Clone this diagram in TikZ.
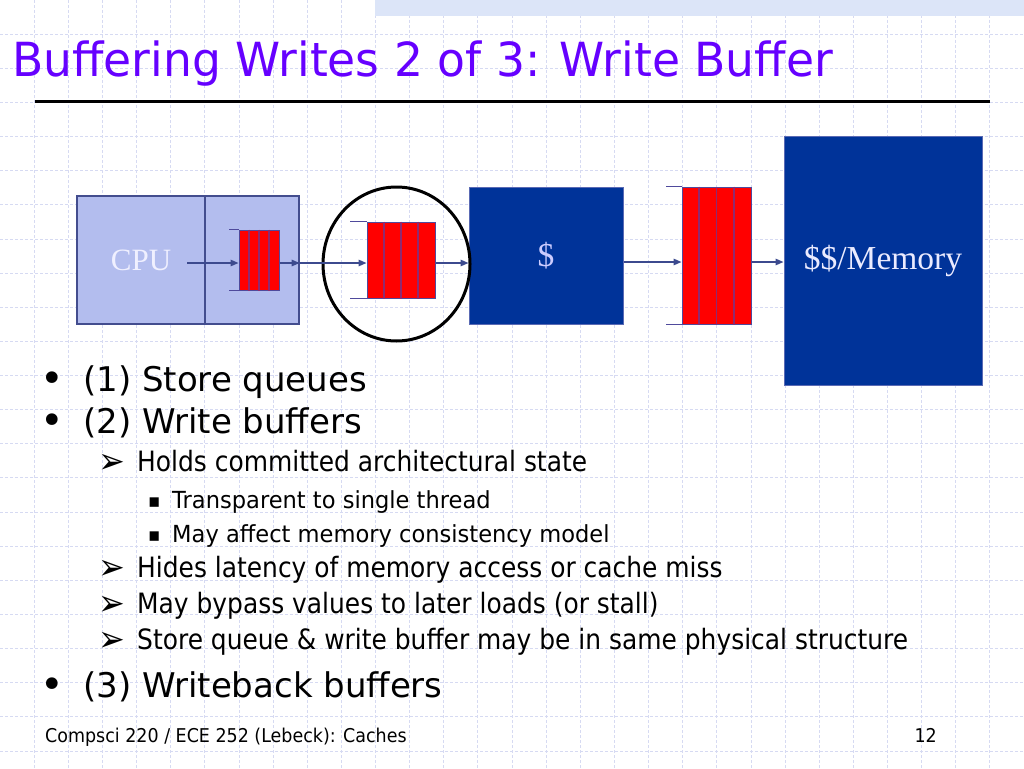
\documentclass[tikz,border=0pt]{standalone}
\usepackage{fontspec}
\setmainfont{DejaVu Sans}
\newfontfamily\titlefont{DejaVu Sans}[FakeStretch=0.97]
\newfontfamily\subfont{DejaVu Sans}[FakeStretch=0.89]
\newfontfamily\subsubfont{DejaVu Sans}[FakeStretch=0.96]
\newfontfamily\footfont{DejaVu Sans}[FakeStretch=0.92]
\newfontfamily\boxfont{Liberation Serif}
\usepackage{xcolor}
\usepackage{tikz}
\usetikzlibrary{arrows.meta}
\usetikzlibrary{positioning,calc,shapes.geometric}

\definecolor{titlecol}{HTML}{6600FF}
\definecolor{gridcol}{HTML}{D6DAF2}
\definecolor{bandcol}{HTML}{DCE5F8}
\definecolor{cpucol}{HTML}{B3BDEE}
\definecolor{cpuline}{HTML}{434D8E}
\definecolor{darkblue}{HTML}{003399}
\definecolor{boxline}{HTML}{5A6AB4}
\definecolor{qline}{HTML}{4F4A9C}
\definecolor{cellline}{HTML}{8E2A70}
\definecolor{flowcol}{HTML}{3C4A8E}

\newcommand{\bigdot}{\makebox[38pt][l]{\hspace*{-5pt}\fontsize{40}{40}\selectfont\raisebox{-1.5pt}{•}}}
\newcommand{\arrowmark}{\makebox[39pt][l]{\fontsize{36}{36}\selectfont\raisebox{-2pt}{➢}}}
\newcommand{\squaremark}{\makebox[24pt][l]{\fontsize{19}{20}\selectfont\raisebox{1pt}{▪}}}

\tikzset{
    gridline/.style={draw=gridcol, line width=0.8pt, dash pattern=on 3pt off 2pt},
    cpupart/.style={draw=cpuline, fill=cpucol, line width=1.2pt, inner sep=0pt},
    queue/.style={draw=qline, fill=red, line width=1pt, inner sep=0pt},
    bluebox/.style={draw=boxline, fill=darkblue, line width=1pt, inner sep=0pt,
        font=\boxfont\fontsize{33.5}{36}\selectfont},
    flow/.style={draw=flowcol, line width=1.4pt, -{Triangle[length=8pt, width=6.5pt]}},
    lvlone/.style={anchor=base west, inner sep=0pt, font=\fontsize{34}{40}\selectfont},
    lvltwo/.style={anchor=base west, inner sep=0pt, font=\subfont\fontsize{28}{32}\selectfont},
    lvlthree/.style={anchor=base west, inner sep=0pt, font=\subsubfont\fontsize{23.5}{28}\selectfont},
    footer/.style={inner sep=0pt, font=\footfont\fontsize{19}{22}\selectfont}
}

\begin{document}
\begin{tikzpicture}[x=1pt, y=-1pt]
    \useasboundingbox (0,0) rectangle (1024,768);
    \fill[white] (0,0) rectangle (1024,768);

    % background grid and band
    \foreach \k in {1,...,29}
        \draw[gridline] (\k*34.133,0) -- (\k*34.133,768);
    \foreach \k in {1,...,22}
        \draw[gridline] (0,\k*34.133) -- (1024,\k*34.133);
    \fill[bandcol] (375,0) rectangle (1024,16.5);

    % title
    \node[anchor=base west, inner sep=0pt, text=titlecol,
          font=\titlefont\fontsize{47}{52}\selectfont] (title) at (12,77) {Buffering Writes 2 of 3: Write Buffer};
    \draw[line width=3pt] (35,101.5) -- (990,101.5);

    % diagram
    \coordinate (lane) at (0,263);
    \coordinate (lanetwo) at (0,262);
    \node[cpupart, minimum width=128pt, minimum height=128pt, text=white!94!blue,
          font=\boxfont\fontsize{31}{34}\selectfont] (cpu) at (141,260) {CPU};
    \node[cpupart, minimum width=94pt, minimum height=128pt] (cpuq) at (252,260) {};
    \node[queue, minimum width=40pt, minimum height=60pt] (sq) at (259,260) {};
    \node[queue, minimum width=68pt, minimum height=76pt] (wb) at (401,260) {};
    \node[bluebox, minimum width=154pt, minimum height=137pt, text=blue!20!white] (cache) at (546,255.5) {\$};
    \node[queue, minimum width=69pt, minimum height=137pt] (wbb) at (716.5,255.5) {};
    \node[bluebox, minimum width=198pt, minimum height=249pt, text=blue!8!white] (mem) at (883,260.5) {\$\$/Memory};
    \node[draw, ellipse, line width=3pt, minimum width=147pt, minimum height=154pt, inner sep=0pt] (focus) at (396.5,264) {};

    % queue cells and end lines
    \foreach \q/\ext in {sq/10, wb/17, wbb/16} {
        \foreach \f in {0.25,0.5,0.75}
            \draw[cellline, line width=1.6pt] ($(\q.north west)!\f!(\q.north east)$) -- ($(\q.south west)!\f!(\q.south east)$);
        \draw[qline, line width=1pt] (\q.north west) -- ++(-\ext,0);
        \draw[qline, line width=1pt] (\q.south west) -- ++(-\ext,0);
    }

    \coordinate (cpuout) at (187,263);
    \draw[flow] (cpuout) -- (sq.west |- lane);
    \draw[flow] (sq.east |- lane) -- (cpuq.east |- lane);
    \draw[flow] (cpuq.east |- lane) -- (wb.west |- lane);
    \draw[flow] (wb.east |- lane) -- (cache.west |- lane);
    \draw[flow] (cache.east |- lanetwo) -- (wbb.west |- lanetwo);
    \draw[flow] (wbb.east |- lanetwo) -- (mem.west |- lanetwo);

    % bullet text
    \node[lvlone] (p1) at (45,391) {\bigdot(1) Store queues};
    \node[lvlone] (p2) at (45,433) {\bigdot(2) Write buffers};
    \node[lvltwo] (p2a) at (98,471) {\arrowmark Holds committed architectural state};
    \node[lvlthree] (p2a1) at (148,508) {\squaremark Transparent to single thread};
    \node[lvlthree] (p2a2) at (148,542) {\squaremark May affect memory consistency model};
    \node[lvltwo] (p2b) at (98,577) {\arrowmark Hides latency of memory access or cache miss};
    \node[lvltwo] (p2c) at (98,613) {\arrowmark May bypass values to later loads (or stall)};
    \node[lvltwo] (p2d) at (98,649) {\arrowmark Store queue \& write buffer may be in same physical structure};
    \node[lvlone] (p3) at (45,697) {\bigdot(3) Writeback buffers};

    % footer
    \node[footer, anchor=base west] (course) at (45,742) {Compsci 220 / ECE 252 (Lebeck): Caches};
    \node[footer, anchor=base east] (page) at (937,742) {12};
\end{tikzpicture}
\end{document}
